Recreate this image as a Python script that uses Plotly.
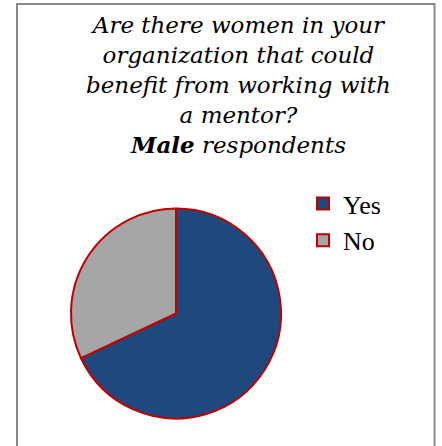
import plotly.graph_objects as go

# Survey answers (share of male respondents)
labels = ["Yes", "No"]
values = [68, 32]
colors = ["#1F497D", "#A6A6A6"]

title_lines = [
    "Are there women in your",
    "organization that could",
    "benefit from working with",
    "a mentor?",
    "<b>Male</b> respondents",
]

W, H = 442, 446

fig = go.Figure(
    go.Pie(
        labels=labels,
        values=values,
        sort=False,
        direction="clockwise",
        rotation=0,
        textinfo="none",
        hoverinfo="label+percent",
        marker=dict(colors=colors, line=dict(color="#C00000", width=2)),
        domain=dict(x=[71 / W, 281 / W], y=[1 - 418.5 / H, 1 - 208.5 / H]),
    )
)

fig.add_annotation(
    text="<br>".join(title_lines),
    xref="paper", yref="paper",
    x=238 / W, y=1 - 10 / H,
    xanchor="center", yanchor="top",
    showarrow=False,
    align="center",
    font=dict(family="DejaVu Serif", size=23, color="#000000", style="italic"),
)

# outer chart frame
fig.add_shape(
    type="rect", xref="paper", yref="paper",
    x0=17 / W, x1=434.5 / W, y0=-0.05, y1=1 - 4 / H,
    line=dict(color="#888888", width=2),
)

fig.update_layout(
    width=W, height=H,
    margin=dict(l=0, r=0, t=0, b=0),
    paper_bgcolor="#FFFFFF",
    plot_bgcolor="#FFFFFF",
    showlegend=True,
    legend=dict(
        x=303 / W, y=1 - 180 / H,
        xanchor="left", yanchor="top",
        font=dict(family="Liberation Serif", size=26, color="#000000"),
        bgcolor="rgba(0,0,0,0)",
        tracegroupgap=0,
    ),
)

fig.write_html("out.html")
